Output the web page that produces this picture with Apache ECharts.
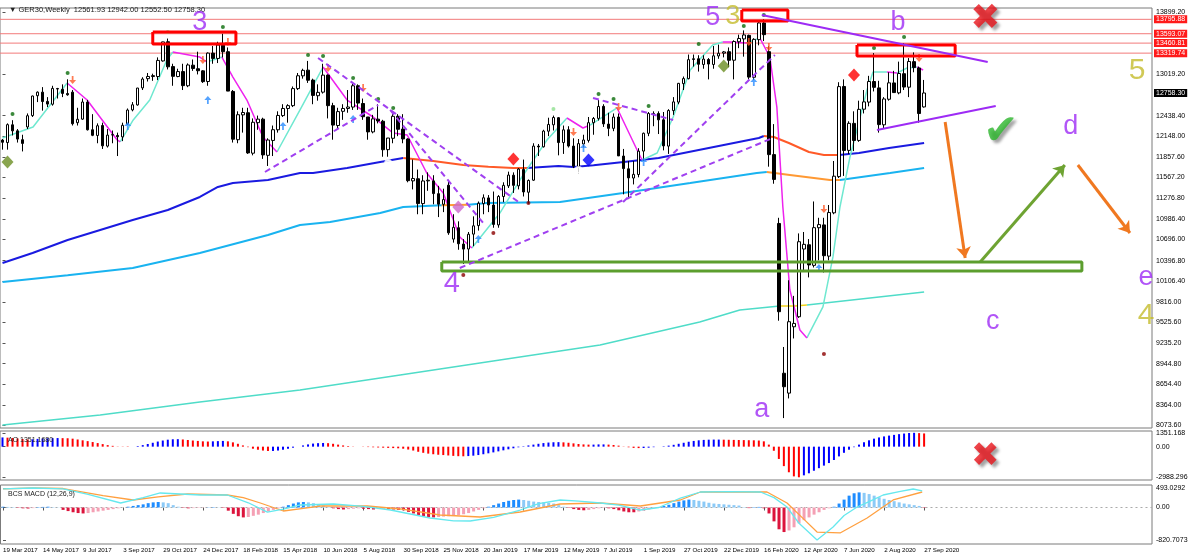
<!DOCTYPE html>
<html><head><meta charset="utf-8">
<script src="https://cdn.jsdelivr.net/npm/echarts@6/dist/echarts.min.js"></script>
<style>html,body{margin:0;padding:0;background:#fff}#c{width:1200px;height:557px}</style>
</head><body><div id="c"></div>
<script>
// ---------- DATA ----------
const tickLabels = ['19 Mar 2017','14 May 2017','9 Jul 2017','3 Sep 2017','29 Oct 2017','24 Dec 2017','18 Feb 2018','15 Apr 2018','10 Jun 2018','5 Aug 2018','30 Sep 2018','25 Nov 2018','20 Jan 2019','17 Mar 2019','12 May 2019','7 Jul 2019','1 Sep 2019','27 Oct 2019','22 Dec 2019','16 Feb 2020','12 Apr 2020','7 Jun 2020','2 Aug 2020','27 Sep 2020'];
const opens = [
12095,12060,12310,12225,12100,12280,12440,12720,12770,12640,
12600,12820,12810,12750,12770,12340,12390,12630,12240,12160,
12300,12010,12170,12160,12140,12320,12520,12590,12830,12960,
12990,12990,13210,13480,13130,12990,13060,12860,13150,13100,
13070,12920,13320,13245,13430,13340,12780,12100,12450,12480,
11910,12340,12390,11880,12090,12240,12440,12540,12580,12820,
13000,13080,12940,12720,12770,13010,12580,12300,12500,12540,
12560,12860,12610,12420,12210,12390,12360,11960,12120,12430,
12250,12110,11520,11550,11200,11520,11520,11340,11190,11460,
10700,10860,10630,10560,10770,10890,11200,11280,11180,10900,
11300,11450,11600,11450,11680,11360,11530,12010,12000,12220,
12310,12410,12060,12240,12010,11720,12040,12090,12340,12400,
12570,12320,12260,12420,11870,11690,11560,11610,11940,12190,
12470,12470,12380,12010,12510,12630,12890,12960,13230,13240,
13160,13230,13160,13280,13320,13340,13220,13480,13520,13570,
12980,13510,13745,13340,11890,10920,8810,8530,9465,9606,
10560,10620,10330,10860,10900,10460,11070,11580,12850,11950,
12330,12090,12530,12630,12920,12830,12310,12670,12900,12760,
13030,12840,13200,13110,12561.93];
const highs = [
12110,12330,12375,12250,12170,12470,12720,12780,12841,12700,
12860,12830,12880,12951,12800,12550,12680,12660,12460,12330,
12340,12250,12230,12200,12340,12540,12630,12830,12980,13040,
13030,13260,13480,13525,13170,13100,13170,13175,13230,13340,
13080,13330,13420,13480,13593,13400,12800,12500,12550,12550,
12400,12440,12410,12120,12300,12500,12600,12600,12850,13040,
13100,13210,12960,12880,13170,13020,12620,12550,12600,12800,
12890,12880,12680,12420,12450,12600,12380,12120,12460,12460,
12460,12120,11820,11680,11600,11640,11600,11450,11410,11520,
11050,10950,10700,10800,11020,11230,11330,11320,11370,11320,
11500,11650,11640,11700,11820,11540,12050,12040,12240,12410,
12440,12420,12300,12290,12120,12110,12170,12420,12420,12660,
12600,12480,12470,12470,11970,11800,11800,11980,12200,12490,
12500,12500,12490,12530,12700,12900,12990,13300,13300,13290,
13290,13250,13420,13440,13350,13400,13500,13580,13640,13580,
13530,13760,13796,13420,12320,11000,9180,10120,9900,10780,
10800,10700,11230,11000,11000,11180,11800,12910,12950,12360,
12500,12650,12800,13000,13320,12930,12700,13050,13070,13200,
13460,13250,13330,13130,12942];
const lows = [
11960,11960,12160,12060,11935,12250,12420,12630,12510,12560,
12580,12680,12700,12720,12300,12300,12380,12230,12150,12050,
11970,11990,12050,11870,12080,12310,12500,12580,12800,12920,
12930,12940,13200,13090,12860,12980,12800,12840,13070,13020,
12900,12860,13170,13180,13260,12980,12060,12050,12200,11900,
11880,12240,11830,11730,11870,12200,12420,12340,12560,12800,
12960,12900,12600,12650,12750,12400,12100,12250,12380,12480,
12520,12520,12380,12100,12190,12330,11860,11860,12050,12150,
12050,11500,11400,11050,11050,11380,11190,11010,11080,10760,
10650,10550,10350,10380,10600,10820,11050,11080,10860,10860,
11220,11420,11350,11400,11300,11200,11520,11870,11990,12150,
12230,11880,11900,11990,11700,11620,11990,12060,12170,12370,
12280,12150,12220,11870,11330,11260,11470,11570,11800,12150,
12290,12180,11950,11900,12450,12600,12800,12950,13130,13060,
13100,12950,13100,13240,13260,13120,12950,13390,13270,12950,
12940,13430,13490,11720,11480,9550,8175,8455,9300,9590,
10250,10160,10300,10400,10230,10400,11050,11560,11590,11900,
11940,12070,12470,12570,12780,12200,12260,12650,12790,12740,
12800,12700,13050,12340,12552.5];
const closes = [
12064,12312,12225,12109,12048,12438,12716,12770,12638,12602,
12823,12815,12752,12733,12325,12388,12631,12240,12162,12297,
12014,12165,12167,12142,12303,12518,12592,12828,12955,12991,
13003,13217,13478,13127,12993,13060,12862,13153,13103,13072,
12918,13320,13245,13434,13340,12785,12107,12452,12483,11914,
12346,12390,11886,12096,12241,12442,12540,12580,12820,13001,
13077,12938,12724,12767,13010,12580,12306,12496,12540,12561,
12860,12616,12424,12210,12394,12364,11959,12124,12430,12247,
12111,11523,11553,11200,11519,11529,11341,11192,11257,10788,
10866,10634,10559,10768,10887,11205,11282,11181,10907,11300,
11457,11602,11457,11686,11364,11526,12010,11999,12222,12315,
12413,12060,12239,12011,11727,12045,12096,12340,12399,12568,
12323,12260,12419,11872,11693,11562,11612,11939,12191,12469,
12468,12380,12013,12511,12633,12894,12961,13228,13241,13163,
13236,13166,13282,13318,13337,13219,13483,13526,13576,12982,
13514,13745,13580,11890,11541,9677,8620,9536,9512,10663,
10626,10336,10861,10904,10466,11074,11586,12848,11949,12331,
12089,12528,12633,12920,12838,12313,12674,12901,12764,13033,
12842,13202,13116,12469,12758.3];

// slow moving averages: [weekIndex, price]
const maBlue = [[0,10363],[6,10504],[13,10687],[19.5,10828],[26,10969],[33,11110],[39.4,11293],[43,11434],[46,11490],[53,11532],[59.4,11631],[62,11631],[68.8,11702],[75.4,11786],[80,11842],[86,11800],[92,11744],[97,11720],[102,11702],[104.7,11702],[111,11730],[114,11716],[118,11740],[124,11786],[131,11842],[137,11927],[144,12025],[151,12124],[152,12152],[154,12138],[157,12054],[161,11927],[164,11885],[167,11885],[171,11913],[177,11983],[184,12054]];
const maBlueFalling = [[80,104.7],[152,167]];
const maSky = [[0,10095],[13,10190],[26,10293],[39.4,10504],[53,10758],[59.4,10899],[65.4,10941],[75.4,11068],[80,11152],[87.7,11175],[93,11185],[96.7,11208],[111.3,11222],[123.9,11349],[137.3,11490],[150.6,11631],[152.6,11645],[157.2,11603],[165.2,11532],[167.2,11532],[177.2,11631],[184,11702]];
const maSkyFalling = [[87.7,93],[152.6,167.2]];
const maTeal = [[0,8081],[19.5,8222],[39.4,8405],[59.4,8574],[79.4,8785],[99.3,8997],[119.3,9208],[139.2,9532],[147.2,9701],[155.2,9757],[158.2,9757],[160.6,9771],[184,9955]];
const maTealFlat = [[155.2,160.6]];
const fastUp = [
 [[0,12124],[6.1,12279],[12.9,12899]],
 [[23.5,12068],[26.1,12378],[29.4,12660],[32.8,13223],[34,13336]],
 [[40.8,13195],[43.8,13265]],
 [[54.8,11927],[59.4,12519],[64,13124]],
 [[93.7,10574],[99.3,11067],[103.3,11532],[108.7,12096],[112.7,12406]],
 [[117.3,12307],[122.7,12547]],
 [[127.7,11814],[130.7,11913],[133.9,12420],[137.3,13082],[141.8,13434],[143.8,13477]],
 [[148.6,13463],[151.2,13533]],
 [[160.6,9307],[163.8,9744],[165.8,10448],[167.2,11152],[169.2,11857],[172.6,12800],[173.8,13054],[176.6,13054]],
 [[178.6,13040],[180.6,13110],[182.6,13124]]];
const fastDown = [
 [[12.9,12899],[16.9,12659],[22.9,12096],[23.5,12068]],
 [[34,13336],[39.4,13265],[40.8,13195]],
 [[43.8,13265],[46,12983],[48.8,12659],[52,12138],[54.8,11927]],
 [[64,13124],[68.8,12659],[74,12420],[78,12194],[80.8,12166],[84.7,11631],[88,11349],[91.3,10729],[93.7,10574]],
 [[112.7,12406],[115.9,12265],[117.3,12307]],
 [[122.7,12547],[126.7,11955],[127.7,11814]],
 [[143.8,13477],[145.2,13477],[148.6,13463]],
 [[151.2,13533],[153.2,13265],[154.6,12561],[155.8,11152],[157.2,9983],[159.2,9420],[160.6,9307]],
 [[176.6,13054],[178.6,13040]],
 [[182.6,13124],[183.8,13082]]];

// oscillator pane (AO-type histogram)
const aoValues = [
900,880,850,800,750,700,720,760, 800,820,830,840,830,820,780,700,
620,540,450,350,250,150,80,20, -20,-30,0,60,150,260,380,500,
600,680,720,730,700,650,600,560, 520,500,520,540,560,520,420,280,
120,-50,-200,-300,-380,-420,-420,-380, -300,-200,-100,0,120,220,300,340,
360,340,280,200,120,60,20,0, -20,-40,-60,-80,-100,-120,-140,-160,
-200,-280,-380,-500,-600,-680,-740,-790, -820,-860,-900,-930,-940,-920,-880,-820,
-740,-650,-560,-460,-360,-260,-160,-60, 40,120,200,280,350,400,430,440,
420,380,320,260,220,200,200,220, 220,200,160,100,20,-60,-120,-140,
-130,-100,-50,0,40,100,180,280, 380,480,560,620,660,680,690,690,
680,670,660,650,640,630,620,600, 520,200,-400,-1200,-1900,-2500,-2900,-2988,
-2800,-2600,-2350,-2100,-1850,-1600,-1300,-950, -600,-300,-50,200,420,620,780,900,
1000,1080,1150,1220,1280,1330,1351,1320,1290];
// MACD pane
const macdHist = [
20,15,10,-10,-20,-25,-15,10,15,20,10,5,
-60,-90,-120,-140,-150,-140,-120,-100,-80,-60,-40,
-20,0,20,40,60,
80,110,130,140,130,110,
60,20,-10,-20,-15,-10,-5,
5,10,5,-10,
-80,-160,-220,-250,-240,-210,-180,-140,-100,
-60,-20,20,60,
100,130,140,130,110,80,50,
10,-20,-40,-50,-40,-30,-20,-30,-40,-50,-40,-30,-40,-50,-60,-70,
-110,-150,-190,-220,-240,-250,-240,-230,-220,-210,-190,-170,-140,-100,-60,
-20,20,60,100,140,170,190,200,190,170,150,140,130,120,100,
60,20,-10,-40,-60,-70,-60,-40,-20,-10,-20,-40,-70,-100,-120,-120,-100,-80,-50,-20,10,
40,70,110,150,180,200,190,170,150,120,100,90,80,70,60,50,10,-15,10,15,
-20,-150,-350,-550,-620,-580,-500,-400,-320,
-250,-180,-120,-60,-20,20,
100,200,300,360,382,370,340,300,260,220,190,160,130,100,80,60,40,-10];
const macdMain = [[0,470],[6,493],[12,470],[17,330],[23.5,114],[28,250],[31.4,367],[39.4,316],[44.8,316],[49,120],[52.8,-118],[56,-40],[59.4,64],[66,89],[72,30],[77.4,-63],[85.3,-265],[90,-340],[93.3,-341],[98,-250],[103.3,-63],[107,100],[111.3,190],[115,160],[119.3,114],[123,60],[127.3,-63],[131,0],[135.3,240],[139.3,392],[145,400],[151.3,392],[154,250],[156.6,13],[159,-400],[162.6,-820],[165.8,-492],[168,-200],[170.6,13],[173,150],[175.8,316],[179,400],[181.8,468],[183.6,420]];
const macdSignal = [[0,470],[6,493],[12,480],[20,300],[26,190],[31,270],[36.8,341],[44.8,316],[48,250],[51.4,114],[56,-88],[60,-20],[63.4,38],[72.8,38],[79.4,-37],[87.3,-189],[95.3,-240],[103.3,-113],[111.3,89],[119.3,114],[127.3,38],[135.3,190],[139.3,392],[152.6,392],[156.6,114],[160,-300],[162.6,-620],[167.2,-643],[172.6,-265],[177.8,190],[183.6,392]];

// axis tick labels
const priceTicks = [13899.2,13019.2,12438.4,12148.0,11857.6,11567.2,11276.8,10986.4,10696.0,10396.8,10106.4,9816.0,9525.6,9235.2,8944.8,8654.4,8364.0,8073.6];
const aoTicks = [1351.168,0,-2988.296];
const macdTicks = [493.0292,0,-820.7073];
const levelPrices = [13795.88,13593.07,13460.81,13319.74];

// indicator markers on candles: [weekIndex, price]
const greenDots = [[2,12462],[13,13040],[44,13688],[61,13293],[64,13279],[70,12969],[75,12674],[78,12547],[119,12744],[122,12674],[129,12575],[139,13448],[148,13702],[152,13857],[174,13392],[180,13547]];
const lightGreenDots = [[33,13617],[110,12533]];
const pinkRings = [[4,11870],[14,12237],[20,11870],[36,12730],[46,11842],[50,11645],[62,12462],[73,12025],[77,11772],[142,12814],[146,12871],[149,12814],[175,12124]];
const orangeRings = [[23,11786],[53,11631],[66,12011]];
const grayRings = [[83,10968],[115,11673],[125,11208],[168,13040],[156,8123]];
const greenRings = [[162,11434]];
const downArrows = [[14,12941],[40,13223],[45,13476],[65,13110],[72,12828],[114,12209],[123,12561],[149,13476],[153,13406],[164,11124],[183,13251]];
const upArrows = [[25,12293],[41,12659],[56,12293],[70,12392],[95,10701],[116,11983],[128,11786],[150,12913],[163,10293]];
const darkRedDots = [[92,10194],[98,10786],[105,11208],[164,9081]];
const diamondsOlive = [[1,11786],[144,13138]];
const diamondsRed = [[102,11828],[170,13012]];
const diamondsBlue = [[117,11814]];
const diamondsOrchid = [[91,11152]];

// ---------- ANNOTATIONS (analyst drawings, in week/price units) ----------
const PURPLE = '#9d2bf5', OLIVE = '#c4bc2c';
const annoTexts = [
 {t:'3', at:[39.4,13744], c:PURPLE, s:27},
 {t:'5', at:[141.8,13815], c:PURPLE, s:27},
 {t:'3', at:[145.8,13829], c:OLIVE, s:27},
 {t:'b', at:[178.8,13744], c:PURPLE, s:27},
 {t:'a', at:[151.6,8300], c:PURPLE, s:27},
 {t:'4', at:[89.7,10067], c:PURPLE, s:29},
 {t:'c', at:[197.7,9532], c:PURPLE, s:27},
 {t:'d', at:[213.3,12279], c:PURPLE, s:27},
 {t:'e', at:[228.3,10152], c:PURPLE, s:27},
 {t:'5', at:[226.5,13068], c:OLIVE, s:30},
 {t:'4', at:[228.3,9617], c:OLIVE, s:30}];
const redBoxes = [[30.0,13617,46.6,13448],[147.6,13927,156.8,13772],[170.6,13434,190.2,13279]];
const greenBox = [87.7,10377,215.5,10251];
const solidTrend = [[[151.6,13857],[196.7,13195]],[[174.6,12237],[198.3,12575]]];
const dashedTrend = [
 [[52.4,11645],[75,12589]],
 [[63,13251],[103.3,11209]],
 [[77.4,12519],[96.3,10898]],
 [[91.3,10293],[153.8,12124]],
 [[123.9,11222],[154.2,13293]],
 [[117.9,12688],[133.9,12378]]];
const arrowsAnno = [
 {from:[188.2,12350], to:[192.2,10434], c:'#f07820'},
 {from:[195.2,10377], to:[212.1,11744], c:'#6ea332'},
 {from:[214.7,11744], to:[225.1,10786], c:'#f07820'}];

// ---------- BUILD ----------
const N = 230;
const cats = Array.from({length:N}, (_, i) => 'w' + i);
const isTick = i => i % 8 === 0 && i / 8 < tickLabels.length;
const candles = opens.map((o, i) => [o, closes[i], lows[i], highs[i]]);
const last = candles.length - 1;
const FONT = 'Liberation Sans';

function slices(points, ranges) {
  const inside = [], outside = [];
  const inR = x => ranges.some(r => x >= r[0] && x <= r[1]);
  let cur = [points[0]], curIn = null;
  for (let k = 1; k < points.length; k++) {
    const a = points[k-1], b = points[k];
    const segIn = inR((a[0] + b[0]) / 2);
    if (curIn === null) curIn = segIn;
    if (segIn !== curIn) { (curIn ? inside : outside).push(cur); cur = [a]; curIn = segIn; }
    cur.push(b);
  }
  (curIn ? inside : outside).push(cur);
  return {inside, outside};
}

const series = [];
function line(data, color, width, grid, extra) {
  series.push(Object.assign({type:'line', data, xAxisIndex:grid*2+1, yAxisIndex:grid, showSymbol:false, symbol:'none',
    silent:true, animation:false, lineStyle:{color, width}, z:3}, extra || {}));
}
const teal = slices(maTeal, maTealFlat);
teal.outside.forEach(s => line(s, '#4fdcc8', 1.5, 0));
teal.inside.forEach(s => line(s, '#f2d21b', 1.5, 0));
const sky = slices(maSky, maSkyFalling);
sky.outside.forEach(s => line(s, '#19b3f0', 2, 0));
sky.inside.forEach(s => line(s, '#ff9933', 2, 0));
const blue = slices(maBlue, maBlueFalling);
blue.outside.forEach(s => line(s, '#1a1ae0', 2, 0));
blue.inside.forEach(s => line(s, '#ff5a28', 2, 0));
fastUp.forEach(s => line(s, '#6fe8d0', 1.5, 0));
fastDown.forEach(s => line(s, '#ee22ee', 1.5, 0));

levelPrices.forEach(v => line([[-0.5, v], [N - 0.5, v]], '#f27a7a', 1, 0, {z:2}));

const tag = (bg) => ({show:true, position:'end', distance:2, formatter: p => p.value.toFixed(2), color:'#fff', backgroundColor:bg,
  fontSize:7, fontFamily:FONT, padding:[1,2,0,2]});
series.push({type:'candlestick', xAxisIndex:0, yAxisIndex:0, data:candles, barWidth:3, animation:false, z:4,
  itemStyle:{color:'#ffffff', color0:'#000000', borderColor:'#000000', borderColor0:'#000000', borderWidth:1},
  markLine:{symbol:'none', silent:true, animation:false, lineStyle:{color:'transparent', width:1},
    data: levelPrices.map(v => ({yAxis:v, label:tag('#ff1a1a')})).concat([{yAxis:closes[last], label:tag('#000000')}])}
});

function marks(data, symbol, size, color, extra) {
  series.push(Object.assign({type:'scatter', xAxisIndex:1, yAxisIndex:0, data, symbol, symbolSize:size, silent:true, animation:false,
    itemStyle:{color}, z:5}, extra || {}));
}
marks(greenDots, 'circle', 4, '#0a6b0a');
marks(lightGreenDots, 'circle', 4, '#8fe08f');
marks(pinkRings, 'emptyCircle', 6, '#f7b3c2', {itemStyle:{color:'#fff', borderColor:'#f7b3c2', borderWidth:1}});
marks(orangeRings, 'emptyCircle', 6, '#f0b040', {itemStyle:{color:'#fff', borderColor:'#f0b040', borderWidth:1}});
marks(grayRings, 'emptyCircle', 6, '#999', {itemStyle:{color:'#fff', borderColor:'#999', borderWidth:1}});
marks(greenRings, 'emptyCircle', 6, '#8fe08f', {itemStyle:{color:'#fff', borderColor:'#8fe08f', borderWidth:1}});
marks(downArrows, 'path://M3,0h2v5h3l-4,5l-4,-5h3z', [7,8], '#ff5a28');
marks(upArrows, 'path://M4,0l4,5h-3v5h-2v-5h-3z', [7,8], '#2a8cff');
marks(darkRedDots, 'circle', 4, '#8b0000');
marks(diamondsOlive, 'diamond', [12,13], '#6b8e23');
marks(diamondsRed, 'diamond', [12,13], '#ff0000');
marks(diamondsBlue, 'diamond', [12,13], '#0000ff');
marks(diamondsOrchid, 'diamond', [12,13], '#cc66cc');

redBoxes.forEach(b => line([[b[0],b[1]],[b[2],b[1]],[b[2],b[3]],[b[0],b[3]],[b[0],b[1]]], '#ff0000', 3, 0, {z:6}));
line([[greenBox[0],greenBox[1]],[greenBox[2],greenBox[1]],[greenBox[2],greenBox[3]],[greenBox[0],greenBox[3]],[greenBox[0],greenBox[1]]], '#5c9e2e', 3, 0, {z:6});
solidTrend.forEach(s => line(s, PURPLE, 2, 0, {z:6}));
dashedTrend.forEach(s => line(s, '#a040f0', 2, 0, {z:6, lineStyle:{color:'#a040f0', width:2, type:[6,4]}}));
series.push({type:'line', xAxisIndex:1, yAxisIndex:0, data:[], silent:true, animation:false, z:6,
  markLine:{silent:true, animation:false, symbol:['none','arrow'], symbolSize:11, label:{show:false},
    data: arrowsAnno.map(a => [{coord:a.from, lineStyle:{color:a.c, width:3, type:'solid'}, itemStyle:{color:a.c}}, {coord:a.to}])}});
series.push({type:'scatter', xAxisIndex:1, yAxisIndex:0, symbolSize:0, silent:true, animation:false, z:7,
  data: annoTexts.map(a => ({value:a.at, label:{show:true, position:'inside', formatter:a.t, color:a.c, fontSize:a.s, fontFamily:FONT}}))});
const shadow = {textShadowColor:'rgba(0,0,0,0.45)', textShadowBlur:3, textShadowOffsetX:3, textShadowOffsetY:3};
series.push({type:'scatter', xAxisIndex:1, yAxisIndex:0, symbolSize:0, silent:true, animation:false, z:7,
  data:[
   {value:[196.2,13790], label:Object.assign({show:true, position:'inside', formatter:'✖', color:'#e8141c', fontSize:36, fontFamily:'DejaVu Sans'}, shadow)},
   {value:[199.3,12195], label:Object.assign({show:true, position:'inside', formatter:'✔', color:'#2cb52c', fontSize:42, fontFamily:'DejaVu Sans'}, shadow)}]});

series.push({type:'bar', xAxisIndex:2, yAxisIndex:1, data:aoValues, barWidth:2, silent:true, animation:false,
  itemStyle:{color: p => (p.dataIndex > 0 && aoValues[p.dataIndex] < aoValues[p.dataIndex-1]) ? '#ff0000' : '#0000ff'}});
series.push({type:'scatter', xAxisIndex:3, yAxisIndex:1, symbolSize:0, silent:true, animation:false, z:7,
  data:[{value:[196.2,-1010], label:Object.assign({show:true, position:'inside', formatter:'✖', color:'#e8141c', fontSize:34, fontFamily:'DejaVu Sans'}, shadow)}]});

series.push({type:'bar', xAxisIndex:4, yAxisIndex:2, data:macdHist, barWidth:3, silent:true, animation:false,
  itemStyle:{color: p => {
    const v = macdHist[p.dataIndex], pv = p.dataIndex > 0 ? macdHist[p.dataIndex-1] : 0;
    if (v >= 0) return v >= pv ? '#1e8cff' : '#8ccaf7';
    return v <= pv ? '#dc143c' : '#f4a0b4'; }}});
line([[-0.5,0],[N-0.5,0]], '#aaaaaa', 1, 2, {lineStyle:{color:'#aaaaaa', width:1, type:[2,3]}, z:1});
line(macdSignal, '#ffa040', 1.3, 2);
line(macdMain, '#66e8ee', 1.3, 2);

const xAxis = [], yAxis = [];
[0,1,2].forEach(g => {
  const bottom = g === 2;
  xAxis.push({type:'category', gridIndex:g, data:cats, boundaryGap:true,
    axisLine:{show:false}, splitLine:{show:false},
    axisTick:{show:bottom, alignWithLabel:true, interval:(i) => isTick(i), length:3, lineStyle:{color:'#555'}},
    axisLabel:{show:bottom, interval:(i) => isTick(i), formatter:(v, i) => tickLabels[i/8] || '', align:'left', margin:3,
      fontSize:6.2, fontFamily:FONT, color:'#000'}});
  xAxis.push({type:'value', gridIndex:g, min:-0.5, max:N-0.5, show:false});
});
function yax(g, min, max, ticks, fmt) {
  return {type:'value', gridIndex:g, position:'right', min, max, scale:true, splitLine:{show:false},
    axisLine:{show:false},
    axisTick:{show:true, customValues:ticks, length:3, lineStyle:{color:'#555'}},
    axisLabel:{customValues:ticks, formatter:fmt, fontSize:7, fontFamily:FONT, color:'#000', margin:4}};
}
yAxis.push(yax(0, 8038.6, 13955.6, priceTicks, v => v.toFixed(2)));
yAxis.push(yax(1, -3254, 1528, aoTicks, v => v === 0 ? '0.00' : v.toFixed(3)));
yAxis.push(yax(2, -921.7, 568.8, macdTicks, v => v === 0 ? '0.00' : v.toFixed(4)));

const gridStyle = {show:true, borderColor:'#7a7a7a', borderWidth:1, backgroundColor:'transparent'};
const option = {
  animation:false, backgroundColor:'#ffffff',
  title:[
    {text:'▼ GER30,Weekly  ' + [opens[last],highs[last],lows[last],closes[last]].map(v => v.toFixed(2)).join(' '),
     left:4, top:1, textStyle:{fontSize:7.5, fontWeight:'normal', color:'#222', fontFamily:FONT}},
    {text:'AO 1351.1680', left:3, top:432, textStyle:{fontSize:7, fontWeight:'normal', color:'#222', fontFamily:FONT}},
    {text:'BCS MACD (12,26,9)', left:3, top:486, textStyle:{fontSize:7, fontWeight:'normal', color:'#222', fontFamily:FONT}}],
  grid:[Object.assign({left:0, top:8, width:1152, height:420}, gridStyle),
        Object.assign({left:0, top:431, width:1152, height:49}, gridStyle),
        Object.assign({left:0, top:485, width:1152, height:59}, gridStyle)],
  xAxis, yAxis, series
};
const chart = echarts.init(document.getElementById('c'), null, {renderer:'canvas'});
chart.setOption(option);
</script></body></html>
